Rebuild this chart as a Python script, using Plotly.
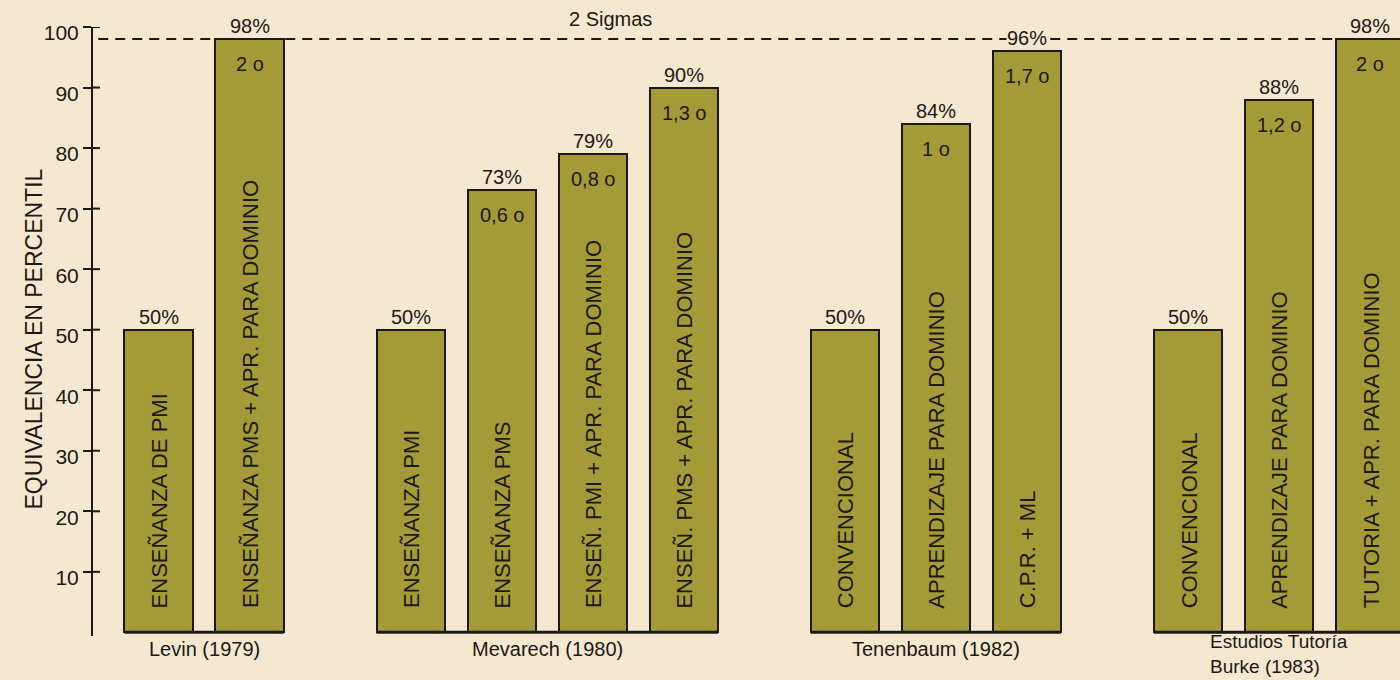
import plotly.graph_objects as go

# ---- data ----
studies = ["Levin (1979)", "Mevarech (1980)", "Tenenbaum (1982)", "Estudios Tutoría<br>Burke (1983)"]
study_of_bar = [0, 0, 1, 1, 1, 1, 2, 2, 2, 3, 3, 3]
treatments = [
    "ENSEÑANZA DE PMI",
    "ENSEÑANZA PMS + APR. PARA DOMINIO",
    "ENSEÑANZA PMI",
    "ENSEÑANZA PMS",
    "ENSEÑ. PMI + APR. PARA DOMINIO",
    "ENSEÑ. PMS + APR. PARA DOMINIO",
    "CONVENCIONAL",
    "APRENDIZAJE PARA DOMINIO",
    "C.P.R. + ML",
    "CONVENCIONAL",
    "APRENDIZAJE PARA DOMINIO",
    "TUTORIA + APR. PARA DOMINIO",
]
percentiles = [50, 98, 50, 73, 79, 90, 50, 84, 96, 50, 88, 98]
sigmas = ["", "2 o", "", "0,6 o", "0,8 o", "1,3 o", "", "1 o", "1,7 o", "", "1,2 o", "2 o"]
ytick_vals = [10, 20, 30, 40, 50, 60, 70, 80, 90, 100]
ytick_text = ["10", "20", "30", "40", "50", "60", "70", "80", "90", "100"]
two_sigma_level = 98
two_sigma_label = "2 Sigmas"
y_title = "EQUIVALENCIA EN PERCENTIL"

# ---- layout helpers ----
GROUP_GAP = 0.77
BAR_W = 0.75
xpos = [i + g * GROUP_GAP for i, g in enumerate(study_of_bar)]

BG = "#f4e8d0"
BAR = "#a59a38"
INK = "#1c1914"
FONT = "Liberation Sans, Arial, sans-serif"
FS = 21

fig = go.Figure()
fig.add_trace(go.Bar(
    x=xpos, y=percentiles, width=BAR_W,
    marker=dict(color=BAR, line=dict(color=INK, width=2)),
    hoverinfo="skip", showlegend=False,
))

ann = []
shapes = []
for x, v, t, s in zip(xpos, percentiles, treatments, sigmas):
    ann.append(dict(x=x, y=v, text=f"{v}%", showarrow=False, yanchor="bottom",
                    yshift=1, font=dict(size=FS - 1, color=INK, family=FONT),
                    bgcolor=BG, borderpad=0))
    if s:
        ann.append(dict(x=x, y=v, text=s, showarrow=False, yanchor="top",
                        yshift=-12, font=dict(size=FS - 1, color=INK, family=FONT)))
    ann.append(dict(x=x, y=0, text=t, showarrow=False, textangle=-90,
                    yanchor="bottom", yshift=22, xshift=1,
                    font=dict(size=22, color=INK, family=FONT)))

for g, name in enumerate(studies):
    xs = [x for x, sg in zip(xpos, study_of_bar) if sg == g]
    left, right = min(xs) - BAR_W / 2, max(xs) + BAR_W / 2
    shapes.append(dict(type="line", xref="x", yref="y", x0=left, x1=right, y0=0, y1=0,
                       line=dict(color=INK, width=3), layer="above"))
    multi = "<br>" in name
    ann.append(dict(x=(left + right) / 2, y=0, text=name, showarrow=False,
                    yanchor="top", yshift=(3 if multi else -4), align="left",
                    font=dict(size=(19 if multi else FS - 1), color=INK, family=FONT)))

# inner part of crossing ticks
for v in ytick_vals:
    shapes.append(dict(type="line", xref="paper", yref="y", xsizemode="pixel", xanchor=0,
                       x0=0, x1=7, y0=v, y1=v, line=dict(color=INK, width=2)))

# 2 sigma dashed line
shapes.append(dict(type="line", xref="paper", yref="y", x0=0.004, x1=1,
                   y0=two_sigma_level, y1=two_sigma_level,
                   line=dict(color=INK, width=2, dash="10px,7px"), layer="below"))
ann.append(dict(x=(xpos[4] + xpos[5]) / 2 - 0.3, y=two_sigma_level, text=two_sigma_label,
                showarrow=False, yanchor="bottom", yshift=7,
                font=dict(size=FS - 1, color=INK, family=FONT)))

ann.append(dict(xref="paper", yref="paper", x=0, y=0.5, xshift=-75, yshift=-8,
                text=y_title, textangle=-90, showarrow=False,
                font=dict(size=23, color=INK, family=FONT)))

fig.update_layout(
    width=1400, height=680,
    margin=dict(l=93, r=0, t=27, b=44),
    paper_bgcolor=BG, plot_bgcolor=BG,
    bargap=0,
    xaxis=dict(range=[-0.72, 13.64], visible=False, fixedrange=True),
    yaxis=dict(range=[-0.6, 100], showline=True, linecolor=INK, linewidth=2,
               showgrid=False, zeroline=False, fixedrange=True,
               ticks="outside", ticklen=8, tickwidth=2, tickcolor=INK,
               tickvals=ytick_vals, ticktext=ytick_text, ticklabelshift=6,
               tickfont=dict(size=FS, color=INK, family=FONT)),
    annotations=ann, shapes=shapes,
    font=dict(family=FONT, color=INK),
)

fig.write_html("out.html", config={"displayModeBar": False},
               post_script="document.body.style.margin='0';document.body.style.background='%s';" % BG)
